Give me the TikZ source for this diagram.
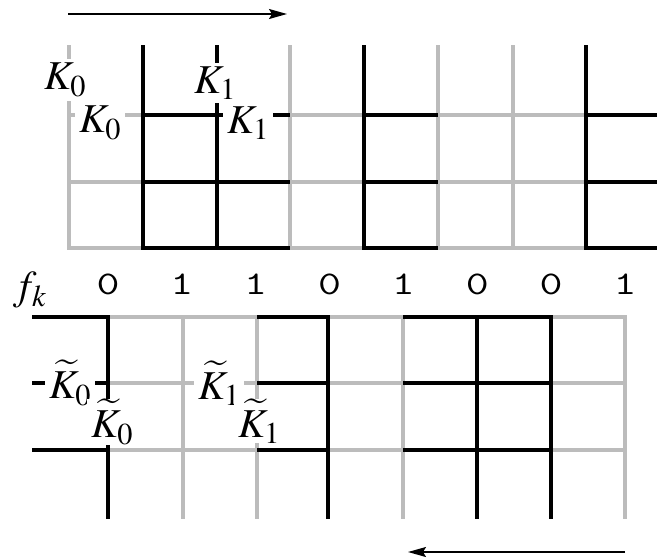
\documentclass[tikz,border=0pt]{standalone}
\usepackage{mathptmx}
\usetikzlibrary{arrows.meta}
\definecolor{lgray}{RGB}{188,188,188}
\tikzset{
  gline/.style={draw=lgray, line width=4.5pt},
  bline/.style={draw=black, line width=4pt},
  lab/.style={fill=white, inner sep=4pt, font=\fontsize{41}{43}\selectfont},
  bit/.style={inner sep=0pt, font=\fontsize{33}{35}\selectfont\ttfamily, xscale=1.35},
  dirarrow/.style={line width=1.5pt, -{Stealth[length=18pt,width=10pt,inset=3pt]}}
}
\begin{document}
\begin{tikzpicture}[x=1pt,y=-1pt]
\useasboundingbox (0,0) rectangle (657,558);
% ---------- top grid: gray ----------
\draw[gline] (69,45) -- (69,248) -- (657,248);
\draw[gline] (69,115) -- (657,115);
\draw[gline] (69,182) -- (657,182);
\foreach \x in {290,438,513} \draw[gline] (\x,45) -- (\x,248);
% ---------- top grid: black ----------
\draw[bline] (143,45) -- (143,248) -- (290,248);
\draw[bline] (217,45) -- (217,248);
\draw[bline] (143,115) -- (290,115);
\draw[bline] (143,182) -- (290,182);
\draw[bline] (364,45) -- (364,248) -- (438,248);
\draw[bline] (364,115) -- (438,115);
\draw[bline] (364,182) -- (438,182);
\draw[bline] (586,45) -- (586,248) -- (657,248);
\draw[bline] (586,115) -- (657,115);
\draw[bline] (586,182) -- (657,182);
% ---------- bottom grid: gray ----------
\draw[gline] (32,317) -- (625,317) -- (625,519);
\draw[gline] (32,383) -- (625,383);
\draw[gline] (32,450) -- (625,450);
\foreach \x in {183,257,403} \draw[gline] (\x,317) -- (\x,519);
% ---------- bottom grid: black ----------
\draw[bline] (32,317) -- (108,317) -- (108,519);
\draw[bline] (32,383) -- (108,383);
\draw[bline] (32,450) -- (108,450);
\draw[bline] (257,317) -- (328,317) -- (328,519);
\draw[bline] (257,383) -- (328,383);
\draw[bline] (257,450) -- (328,450);
\draw[bline] (403,317) -- (551,317) -- (551,519);
\draw[bline] (477,317) -- (477,519);
\draw[bline] (403,383) -- (551,383);
\draw[bline] (403,450) -- (551,450);
% ---------- labels ----------
\node[lab] (k0a) at (65,80) {$K_0$};
\node[lab] (k0b) at (100,123) {$K_0$};
\node[lab] (k1a) at (215,83) {$K_1$};
\node[lab] (k1b) at (248,123) {$K_1$};
\node[lab] (t0a) at (70,383) {$\widetilde{K}_0$};
\node[lab, inner ysep=0pt] (t0b) at (112,422) {$\widetilde{K}_0$};
\node[lab] (t1a) at (219,383) {$\widetilde{K}_1$};
\node[lab, inner ysep=0pt] (t1b) at (259,421) {$\widetilde{K}_1$};
\node[lab, fill=none] (fk) at (30,290) {$f_k$};
\foreach \b [count=\i from 0] in {0,1,1,0,1,0,0,1}
  \node[bit] (b\i) at ({108+73.86*\i},284) {\b};
% ---------- arrows ----------
\coordinate (a1s) at (68,14);
\coordinate (a1e) at (287,14);
\coordinate (a2s) at (625,552);
\coordinate (a2e) at (408,552);
\draw[dirarrow] (a1s) -- (a1e);
\draw[dirarrow] (a2s) -- (a2e);
\end{tikzpicture}
\end{document}
